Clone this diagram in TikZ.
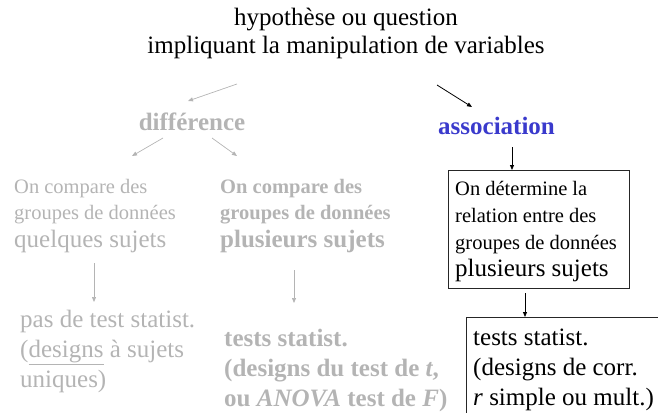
\documentclass[tikz,border=0pt]{standalone}
\usepackage{fontspec}
\setmainfont{Liberation Serif}
\usetikzlibrary{arrows.meta}
\definecolor{lgray}{HTML}{B4B4B4}
\definecolor{assocblue}{HTML}{3A3ACC}
\begin{document}
\begin{tikzpicture}[x=1pt,y=-1pt,
  ln/.style={inner sep=0pt, anchor=base west},
  big/.style={font=\fontsize{25}{30}\selectfont},
  small/.style={font=\fontsize{20.5}{24}\selectfont},
  bigb/.style={font=\fontsize{25}{30}\selectfont\bfseries},
  smallb/.style={font=\fontsize{20.5}{24}\selectfont\bfseries},
  gr/.style={text=lgray},
  garrow/.style={draw=lgray, line width=0.7pt, -{Triangle[length=5pt,width=4pt]}},
  barrow/.style={draw=black, line width=0.8pt, -{Triangle[length=5pt,width=4pt]}},
  boxed/.style={draw=black!85, line width=0.9pt, inner sep=0pt}]
\useasboundingbox (0,0) rectangle (658,412);
\clip (0,0) rectangle (658,412);

% top
\node[big, inner sep=0pt, anchor=base] (top1) at (346,26) {hypothèse ou question};
\node[big, inner sep=0pt, anchor=base] (top2) at (346,54) {impliquant la manipulation de variables};

% difference / association
\node[bigb, gr, inner sep=0pt, anchor=base] (diff) at (192,130) {différence};
\node[bigb, ln, text=assocblue] (assoc) at (438,134) {association};

% left column
\node[small, gr, ln] (l1) at (14,193) {On compare des};
\node[small, gr, ln] (l2) at (14,219) {groupes de données};
\node[big, gr, ln] (l3) at (14,247) {quelques sujets};

% middle column
\node[smallb, gr, ln] (m1) at (220,193) {On compare des};
\node[smallb, gr, ln] (m2) at (220,219) {groupes de données};
\node[bigb, gr, ln] (m3) at (220,247) {plusieurs sujets};

% association box
\node[boxed, anchor=north west, minimum width=181pt, minimum height=118pt] (abox) at (448,170) {};
\node[small, ln] (a1) at (455,195) {On détermine la};
\node[small, ln] (a2) at (455,222) {relation entre des};
\node[small, ln] (a3) at (455,249) {groupes de données};
\node[big, ln] (a4) at (455,276) {plusieurs sujets};

% bottom left
\node[big, gr, ln] (bl1) at (20,327) {pas de test statist.};
\node[big, gr, ln] (bl2) at (20,357) {(\underline{designs} à sujets};
\node[big, gr, ln] (bl3) at (20,387) {uniques)};

% bottom middle
\node[bigb, gr, ln] (bm1) at (224,346) {tests statist.};
\node[bigb, gr, ln] (bm2) at (224,376) {(designs du test de \textit{t},};
\node[bigb, gr, ln] (bm3) at (224,406) {ou \textit{ANOVA} test de \textit{F})};

% bottom right box (extends past the edge)
\node[boxed, anchor=north west, minimum width=230pt, minimum height=120pt] (cbox) at (466,317) {};
\node[big, ln] (c1) at (473,345) {tests statist.};
\node[big, ln] (c2) at (473,375) {(designs de corr.};
\node[big, ln] (c3) at (473,405) {\textit{r} simple ou mult.)};

% connector end points
\coordinate (g1s) at (237,84);  \coordinate (g1e) at (188,101);
\coordinate (b1s) at (437,85);  \coordinate (b1e) at (472,107);
\coordinate (g2s) at (163,138); \coordinate (g2e) at (132,156);
\coordinate (g3s) at (212,138); \coordinate (g3e) at (237,156);
\coordinate (b2s) at (512,147);
\coordinate (g4s) at (94,263);  \coordinate (g4e) at (94,302);
\coordinate (g5s) at (294,270); \coordinate (g5e) at (294,303);
\coordinate (b3s) at (525,293);

\draw[garrow] (g1s) -- (g1e);
\draw[barrow] (b1s) -- (b1e);
\draw[garrow] (g2s) -- (g2e);
\draw[garrow] (g3s) -- (g3e);
\draw[barrow] (b2s) -- (b2s |- abox.north);
\draw[garrow] (g4s) -- (g4e);
\draw[garrow] (g5s) -- (g5e);
\draw[barrow] (b3s) -- (b3s |- cbox.north);
\end{tikzpicture}
\end{document}
